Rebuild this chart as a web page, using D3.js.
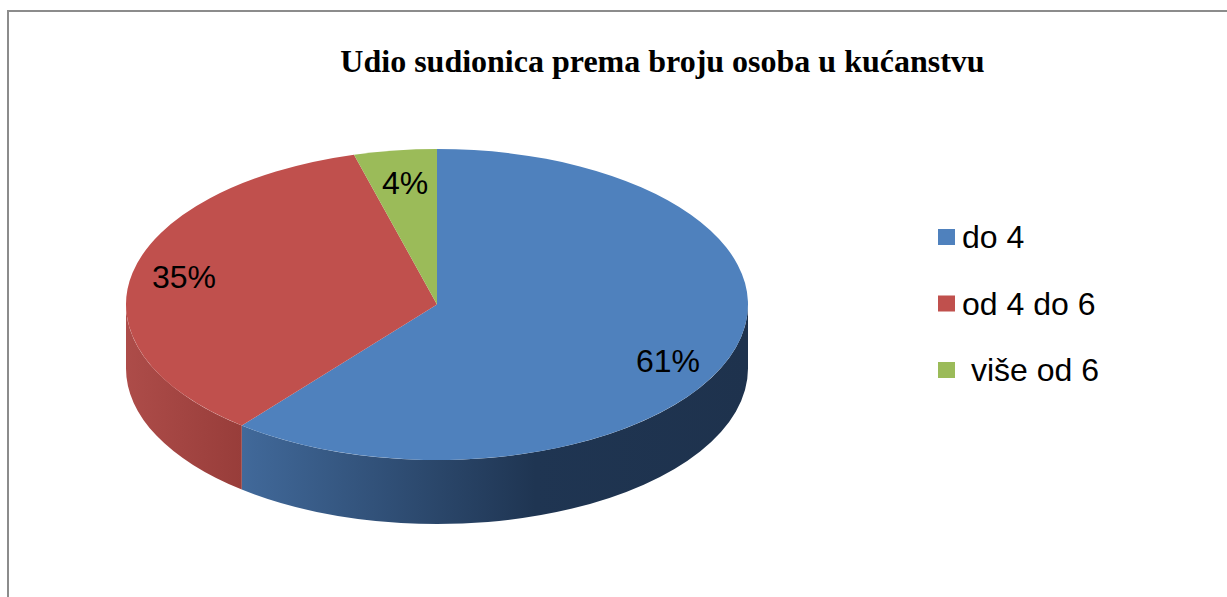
<!DOCTYPE html>
<html><head><meta charset="utf-8">
<script src="https://cdn.jsdelivr.net/npm/d3@7"></script>
<style>html,body{margin:0;padding:0;background:#fff;overflow:hidden}svg{display:block}</style>
</head><body><svg id="c" width="1227" height="597"></svg>
<script>
const title = "Udio sudionica prema broju osoba u kućanstvu";
const categories = ["do 4", "od 4 do 6", " više od 6"];
const values = [60.8, 34.9, 4.3];
const labels = ["61%", "35%", "4%"];
const colors = ["#4f81bd", "#c0504d", "#9bbb59"];
const sideStops = [
  [[0,"#41699a"],[0.58,"#1f3552"],[1,"#1e324d"]],
  [[0,"#ad4c49"],[1,"#983d3a"]],
  [[0,"#7a9446"],[1,"#7a9446"]]
];
const labelPos = [[668,361],[184,277],[405,183]];

const cx = 437, cy = 304.5, rx = 311, ry = 155.5, depth = 64;
const svg = d3.select("#c");

// frame
svg.append("path").attr("d","M8 597V11H1227").attr("fill","none")
  .attr("stroke","#8c8c8c").attr("stroke-width",2);

svg.append("text").text(title).attr("x",662.5).attr("y",72)
  .attr("text-anchor","middle").attr("font-family","'Liberation Serif'")
  .attr("font-weight","bold").attr("font-size",32).attr("fill","#000");

const arcs = d3.pie().sort(null)(values);
const px = a => cx + rx*Math.sin(a), py = a => cy - ry*Math.cos(a);

const defs = svg.append("defs");
const vis0 = Math.PI/2, vis1 = 3*Math.PI/2;

arcs.forEach((d,i)=>{
  const a0 = Math.max(d.startAngle,vis0), a1 = Math.min(d.endAngle,vis1);
  if(a1<=a0) return;
  const g = defs.append("linearGradient").attr("id","side"+i)
    .attr("gradientUnits","userSpaceOnUse")
    .attr("x1",Math.min(px(a0),px(a1))).attr("x2",Math.max(px(a0),px(a1))).attr("y1",0).attr("y2",0);
  sideStops[i].forEach(s=>g.append("stop").attr("offset",s[0]).attr("stop-color",s[1]));
  svg.append("path")
    .attr("d",`M${px(a0)} ${py(a0)}A${rx} ${ry} 0 0 1 ${px(a1)} ${py(a1)}L${px(a1)} ${py(a1)+depth}A${rx} ${ry} 0 0 0 ${px(a0)} ${py(a0)+depth}Z`)
    .attr("fill",`url(#side${i})`);
});

const arc = d3.arc().innerRadius(0).outerRadius(rx);
svg.append("g").attr("transform",`translate(${cx},${cy}) scale(1,${ry/rx})`)
  .selectAll("path").data(arcs).join("path")
  .attr("d",arc).attr("fill",(d,i)=>colors[i]);

svg.append("g").selectAll("text").data(labels).join("text")
  .text(d=>d).attr("x",(d,i)=>labelPos[i][0]).attr("y",(d,i)=>labelPos[i][1]+11)
  .attr("text-anchor","middle").attr("font-family","'Liberation Sans'")
  .attr("font-size",32).attr("fill","#000");

const legendY = d3.scalePoint().domain(categories).range([237,370]);
const lg = svg.append("g").selectAll("g").data(categories).join("g")
  .attr("transform",d=>`translate(938,${legendY(d)})`);
lg.append("rect").attr("y",-8).attr("width",17).attr("height",16).attr("fill",(d,i)=>colors[i]);
lg.append("text").text(d=>d).attr("x",24).attr("y",11)
  .style("white-space","pre").attr("font-family","'Liberation Sans'")
  .attr("font-size",32).attr("fill","#000");
</script></body></html>
